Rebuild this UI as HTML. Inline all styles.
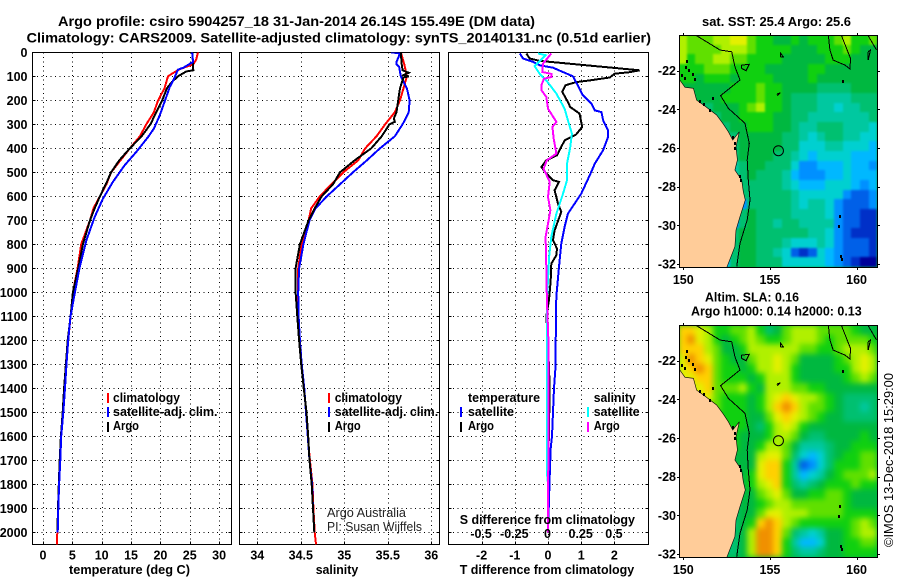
<!DOCTYPE html>
<html>
<head>
<meta charset="utf-8">
<title>Argo profile</title>
<style>
html,body{margin:0;padding:0;background:#fff;width:900px;height:580px;overflow:hidden}
svg{display:block}
text{font-family:"Liberation Sans",sans-serif;font-weight:bold;font-size:12.5px;fill:#000}
.t{font-size:14px}
.thin{font-weight:normal;font-size:12.5px;fill:#222}
.crisp{shape-rendering:crispEdges}
</style>
</head>
<body>
<svg id="root" width="900" height="580" viewBox="0 0 900 580" xmlns="http://www.w3.org/2000/svg">
<defs>
<clipPath id="clip-temp"><rect x="32.5" y="52.5" width="199" height="492"/></clipPath>
<clipPath id="clip-sal"><rect x="239.5" y="52.5" width="200" height="492"/></clipPath>
<clipPath id="clip-diff"><rect x="448.5" y="52.5" width="200" height="492"/></clipPath>
<clipPath id="clip-map1"><rect x="680" y="36" width="197" height="231"/></clipPath>
<clipPath id="clip-map2"><rect x="680" y="326" width="197" height="231"/></clipPath>
<filter id="soft-sst" x="-5%" y="-5%" width="110%" height="110%" color-interpolation-filters="sRGB"><feGaussianBlur stdDeviation="1.1" edgeMode="duplicate"/></filter>
<filter id="soft-sla" x="-5%" y="-5%" width="110%" height="110%" color-interpolation-filters="sRGB"><feGaussianBlur stdDeviation="3" edgeMode="duplicate"/></filter>
</defs>

<text class="t" x="58" y="26" textLength="477" lengthAdjust="spacingAndGlyphs">Argo profile: csiro 5904257_18 31-Jan-2014 26.14S 155.49E (DM data)</text>
<text class="t" x="26.5" y="42.5" textLength="624.5" lengthAdjust="spacingAndGlyphs">Climatology: CARS2009. Satellite-adjusted climatology: synTS_20140131.nc (0.51d earlier)</text>

<g id="panel-temp"></g>
<g id="panel-sal"></g>
<g id="panel-diff"></g>
<g id="map1"></g>
<g id="map2"></g>

<text x="69" y="574" textLength="121" lengthAdjust="spacingAndGlyphs">temperature (deg C)</text>
<text x="315.7" y="574" textLength="42.5" lengthAdjust="spacingAndGlyphs">salinity</text>
<text x="459.7" y="574" textLength="174.5" lengthAdjust="spacingAndGlyphs">T difference from climatology</text>
<text x="459.7" y="524" textLength="175.3" lengthAdjust="spacingAndGlyphs">S difference from climatology</text>

<g>
<rect class="crisp" x="107" y="393" width="2" height="10" fill="#ff0000"/>
<text x="113" y="402" textLength="67" lengthAdjust="spacingAndGlyphs">climatology</text>
<rect class="crisp" x="107" y="407" width="2" height="10" fill="#0000ff"/>
<text x="113" y="416" textLength="104.5" lengthAdjust="spacingAndGlyphs">satellite-adj. clim.</text>
<rect class="crisp" x="107" y="422" width="2" height="10" fill="#000"/>
<text x="113" y="430" textLength="26" lengthAdjust="spacingAndGlyphs">Argo</text>
</g>
<g>
<rect class="crisp" x="328" y="393" width="2" height="10" fill="#ff0000"/>
<text x="334.7" y="402" textLength="67.3" lengthAdjust="spacingAndGlyphs">climatology</text>
<rect class="crisp" x="328" y="407" width="2" height="10" fill="#0000ff"/>
<text x="334.7" y="416" textLength="103.5" lengthAdjust="spacingAndGlyphs">satellite-adj. clim.</text>
<rect class="crisp" x="328" y="422" width="2" height="10" fill="#000"/>
<text x="334.7" y="430" textLength="26" lengthAdjust="spacingAndGlyphs">Argo</text>
</g>
<text class="thin" x="327" y="517" textLength="79" lengthAdjust="spacingAndGlyphs">Argo Australia</text>
<text class="thin" x="327" y="531" textLength="95" lengthAdjust="spacingAndGlyphs">PI: Susan Wijffels</text>

<g>
<text x="468" y="402" textLength="72" lengthAdjust="spacingAndGlyphs">temperature</text>
<rect class="crisp" x="460" y="407" width="2" height="10" fill="#0000ff"/>
<text x="468" y="416" textLength="46" lengthAdjust="spacingAndGlyphs">satellite</text>
<rect class="crisp" x="460" y="422" width="2" height="10" fill="#000"/>
<text x="468" y="430" textLength="26" lengthAdjust="spacingAndGlyphs">Argo</text>
<text x="593.7" y="402" textLength="42" lengthAdjust="spacingAndGlyphs">salinity</text>
<rect class="crisp" x="587" y="407" width="2" height="10" fill="#00ffff"/>
<text x="593.7" y="416" textLength="46" lengthAdjust="spacingAndGlyphs">satellite</text>
<rect class="crisp" x="587" y="422" width="2" height="10" fill="#ff00ff"/>
<text x="593.7" y="430" textLength="26" lengthAdjust="spacingAndGlyphs">Argo</text>
</g>

<text x="702" y="26" textLength="149" lengthAdjust="spacingAndGlyphs">sat. SST: 25.4 Argo: 25.6</text>
<text x="705" y="301.5" textLength="94" lengthAdjust="spacingAndGlyphs">Altim. SLA: 0.16</text>
<text x="691" y="315.7" textLength="170.7" lengthAdjust="spacingAndGlyphs">Argo h1000: 0.14 h2000: 0.13</text>
<text class="thin" x="893" y="547" transform="rotate(-90 893 547)" textLength="174" lengthAdjust="spacingAndGlyphs" style="fill:#000;font-size:13px">©IMOS 13-Dec-2018 15:29:00</text>
</svg>

<script>
// ---------- profile data ----------
const depthTicks = [0,100,200,300,400,500,600,700,800,900,1000,1100,1200,1300,1400,1500,1600,1700,1800,1900,2000];
const tempTicks = [0,5,10,15,20,25,30];
const salTicks = [34,34.5,35,35.5,36];
const salTickLabels = ['34','34.5','35','35.5','36'];
const diffTicks = [-2,-1,0,1,2];
const sDiffTickLabels = ['-0.5','-0.25','0','0.25','0.5'];

const climTempDepth = [0,30,50,70,90,100,150,200,250,300,350,400,450,500,550,600,650,700,800,900,1000,1100,1200,1300,1400,1500,1600,1700,1800,1900,2000,2010,2050];
const climTemp = [26.4,26.1,25.6,23.3,21.9,21.3,20.7,19.6,18.9,17.6,16.5,14.8,13.2,11.6,10.8,9.7,8.6,8,6.5,5.9,5.1,4.7,4.3,4,3.7,3.4,3.05,2.9,2.7,2.6,2.5,2.4,2.35];
const sateTempDepth = [0,40,64,72,117,144,207,262,318,353,415,471,540,610,686,783,894,1005,1103,1200,1300,1400,1500,1600,1700,1800,1900,2000];
const sateTemp = [25.4,25.57,23.9,23,22.2,21.6,20.7,19.9,18.9,17.9,15.9,13.9,11.9,10.2,8.8,7.4,6.25,5.4,4.66,4.3,4,3.75,3.45,3.1,2.95,2.75,2.6,2.5];
const argoTempDepth = [0,75,80,100,125,150,200,250,300,350,400,450,500,550,600,650,700,800,900,1000,1100,1200,1300,1400,1500,1600,1700,1800,1900,2000];
const argoTemp = [25.45,25.6,24.4,23,21.9,21.1,20.3,19.3,18.3,16.8,14.8,13,11.6,10.7,9.7,8.8,8,6.8,6,5.1,4.7,4.2,3.9,3.6,3.35,3.05,2.85,2.7,2.55,2.45];

const climSalDepth = [0,50,100,150,200,250,300,350,400,450,500,550,600,650,700,800,900,1000,1100,1200,1300,1400,1500,1600,1700,1800,1900,2000,2050];
const climSal = [35.65,35.69,35.72,35.68,35.64,35.58,35.47,35.37,35.24,35.16,34.99,34.85,34.72,34.62,34.59,34.51,34.47,34.465,34.475,34.49,34.51,34.54,34.56,34.58,34.605,34.635,34.645,34.66,34.675];
const sateSalDepth = [0,5,40,50,60,100,150,200,250,300,350,400,450,500,550,600,650,700,800,900,1000,1100,1200,1300,1400,1500,1600,1700,1800,1900,2000];
const sateSal = [35.54,35.64,35.6,35.6,35.63,35.65,35.72,35.75,35.74,35.67,35.58,35.41,35.26,35.1,34.95,34.8,34.67,34.6,34.53,34.48,34.47,34.475,34.49,34.51,34.54,34.56,34.58,34.6,34.63,34.64,34.655];
const argoSalDepth = [0,50,75,85,95,100,105,150,200,250,275,290,300,350,400,450,500,550,600,650,700,800,900,1000,1100,1200,1300,1400,1500,1600,1700,1800,1900,2000];
const argoSal = [35.65,35.66,35.67,35.74,35.68,35.74,35.68,35.64,35.62,35.6,35.57,35.58,35.52,35.43,35.31,35.12,34.95,34.87,34.74,34.66,34.59,34.49,34.44,34.44,34.46,34.48,34.505,34.535,34.565,34.585,34.6,34.625,34.64,34.655];

const argoDiffDepth = [5,26,36,75,83,89,105,117,124,137,165,207,228,255,311,342,367,408,429,450,478,506,533,540,575,631,665,742,783,818,846,881,950,1033,1100,1200,1400,1800,2000];
const argoDiff = [-0.65,-0.55,-0.25,2.76,2.46,2.01,1.86,1.26,0.85,0.53,0.43,0.6,0.67,0.95,1.03,0.85,0.5,0.35,0.27,-0.05,-0.2,-0.05,0.15,0.33,0.2,0.3,0.4,0.2,0.15,0.27,0.25,0.1,0.08,0.03,-0.05,0,0.05,0,0];
const sateDiffDepth = [5,26,40,54,64,82,100,131,179,214,242,249,283,325,353,408,464,512,589,631,672,728,797,894,1019,1324,1400,1500,1600,1650,1768,2000];
const sateDiff = [-0.85,-0.75,-0.45,-0.25,0.15,0.45,0.75,0.87,1.05,1.31,1.41,1.61,1.66,1.81,1.81,1.66,1.41,1.26,1,0.8,0.6,0.5,0.4,0.33,0.25,0.22,0.18,0.15,0.12,0.08,0.05,0];
const sateSalDiffDepth = [5,12,58,89,117,172,235,283,339,394,464,533,589,672,769,853,950,1033,1300,1750,1800,2000];
const sateSalDiff = [-0.075,-0.018,-0.1,-0.063,-0.013,0.063,0.125,0.15,0.18,0.168,0.143,0.143,0.113,0.063,0.025,0.008,0,-0.008,-0.008,-0.008,0,0];
const argoSalDiffDepth = [5,47,82,90,103,110,137,158,186,235,290,311,360,422,450,485,540,603,658,714,769,894,1033,1200,1600,2000];
const argoSalDiff = [0.025,-0.038,-0.043,0.025,0.025,-0.03,-0.05,-0.05,-0.013,0,0.063,0.033,0.043,0.063,-0.008,-0.033,0.013,0,0.018,0,-0.018,-0.013,-0.008,0.003,0.003,0];

// ---------- map data (colour level per 0.5 degree cell, north to south, west to east) ----------
const sstGrid = [
[11,10,10,10,11,11,12,12,10,9,9,8,8,9,8,9,9,9,10,11,9,9,10],
[11,10,10,10,10,11,11,11,10,9,9,9,9,8,8,8,9,9,9,10,9,8,8],
[11,9,10,10,11,11,10,10,9,9,9,9,8,8,8,8,8,9,9,9,8,8,8],
[9,9,9,10,10,10,9,9,9,9,8,8,8,8,8,9,9,8,8,8,8,8,8],
[9,9,8,9,9,9,8,9,9,9,9,8,8,8,8,9,8,8,8,8,8,8,8],
[8,8,8,8,8,8,9,9,9,10,9,9,8,8,8,8,7,7,7,7,8,8,8],
[8,7,8,8,8,9,9,9,9,10,9,9,8,7,7,7,6,6,6,6,7,7,7],
[8,8,7,7,8,8,8,9,10,11,9,9,8,7,7,7,6,6,5,6,6,7,7],
[8,8,7,7,7,8,8,9,9,9,9,8,8,7,7,6,6,6,6,6,6,6,7],
[8,8,7,7,7,7,8,8,9,9,9,8,8,7,6,6,7,7,7,6,6,6,5],
[7,7,7,7,7,7,7,8,8,8,8,8,7,7,6,5,6,7,7,6,6,5,5],
[7,7,7,7,7,7,7,8,8,8,8,8,7,7,5,5,5,6,6,5,5,5,4],
[7,7,7,7,7,6,7,8,8,8,8,7,7,6,5,4,5,5,5,5,4,4,4],
[7,7,7,7,7,6,6,7,8,8,7,7,7,5,3,3,4,4,4,5,4,4,3],
[7,7,7,7,6,6,6,7,8,7,7,7,6,4,3,3,3,4,4,5,4,4,4],
[7,7,7,7,6,6,5,7,7,7,7,7,6,5,4,4,4,5,5,5,4,3,4],
[6,6,6,6,6,6,4,7,7,7,7,7,7,6,5,5,5,5,5,3,2,2,3],
[6,6,6,6,6,6,6,3,7,7,7,7,7,6,5,6,6,5,3,2,2,2,3],
[6,6,6,6,6,6,4,7,8,7,7,7,7,6,6,6,6,5,3,2,2,1,1],
[6,6,6,6,6,6,3,7,8,7,7,6,7,7,6,6,6,6,3,2,2,1,1],
[6,6,6,6,6,3,7,8,8,7,7,7,7,7,7,6,6,5,3,2,1,1,1],
[6,6,6,6,6,2,7,8,8,7,7,7,6,5,5,5,6,5,3,2,2,2,1],
[6,6,6,6,1,3,7,8,8,7,7,6,5,2,1,2,5,4,3,2,2,2,1],
[6,6,6,6,1,4,7,8,8,7,7,7,5,5,5,5,5,4,3,2,1,0,0]
];
const slaGrid = [
[13,13,12,11,9,9,10,10,11,9,7,8,10,11,11,11,10,10,10,10,9,8,8],
[13,14,12,11,9,8,9,10,11,10,9,9,10,11,11,11,10,9,10,10,10,10,9],
[13,13,13,11,10,8,8,9,11,11,11,11,11,11,10,10,9,9,10,11,11,11,10],
[12,14,13,12,10,9,8,8,10,11,11,12,11,10,8,8,8,8,9,10,11,12,11],
[12,13,14,13,10,9,9,8,9,11,11,12,11,9,8,8,8,8,9,9,11,12,11],
[12,12,13,13,10,9,9,9,8,9,11,11,11,9,8,8,8,8,8,9,10,11,10],
[11,11,12,13,10,10,10,11,9,8,11,11,11,10,10,9,9,8,8,8,8,8,8],
[11,11,12,12,10,9,9,9,8,9,11,12,13,12,11,11,10,9,8,7,7,7,7],
[10,10,10,10,10,9,9,9,8,9,11,13,14,13,11,10,10,9,8,7,7,6,7],
[9,9,9,9,9,9,9,9,8,8,10,12,13,12,11,10,9,8,8,7,7,7,7],
[9,9,9,9,9,9,9,9,8,7,9,11,12,11,9,8,8,8,8,8,8,8,8],
[9,9,9,9,9,9,9,8,8,8,9,11,11,10,8,7,7,8,8,8,8,9,8],
[9,9,9,9,9,9,9,8,8,9,11,11,10,8,6,6,6,7,8,8,9,9,9],
[9,9,9,9,9,9,8,8,8,11,12,12,10,7,5,4,5,7,8,9,9,10,10],
[9,9,9,9,9,9,8,8,8,12,13,13,9,6,2,3,5,7,9,9,9,10,10],
[9,9,9,9,9,9,8,8,9,12,13,13,9,6,4,5,6,8,9,10,10,10,11],
[9,9,9,9,9,9,8,8,9,11,12,13,9,7,6,7,8,9,9,9,10,9,9],
[9,9,9,9,9,9,7,8,8,10,11,12,10,8,8,9,9,10,10,9,8,8,8],
[9,9,9,9,9,9,7,8,8,9,10,11,11,10,10,10,10,10,10,9,8,8,8],
[9,9,9,9,9,7,7,8,8,10,12,12,11,11,11,10,10,10,10,9,9,9,9],
[9,9,9,9,9,7,7,8,9,13,14,13,11,10,9,9,9,9,9,9,10,11,10],
[9,9,9,9,9,7,7,8,11,14,14,13,10,7,6,5,6,8,8,9,10,11,11],
[9,9,9,9,7,7,7,8,11,14,14,13,9,6,4,4,5,8,8,9,9,10,10],
[9,9,9,9,7,7,7,8,11,14,14,13,9,7,6,6,7,8,8,9,9,9,9]
];
const levelColors = ['#00009a','#0030c8','#0060e8','#0090ff','#00b8ff','#00d0d0','#00c8a0','#00c070','#00b840','#10d010','#60e000','#b0f000','#e4f000','#ffd000','#f09000'];

const lonTicks = [150,155,160];
const latTicks = [-22,-24,-26,-28,-30,-32];
const coastLon = [149.8,150.1,150.58,150.77,151.25,151.92,152.31,152.6,152.85,153.23,153.04,153.12,152.98,153.37,153.46,153.58,153.27,153.04,152.98,152.5,149.6];
const coastLat = [-22.48,-22.86,-22.91,-23.52,-23.83,-24.29,-24.76,-25.16,-25.59,-25.16,-25.93,-26.62,-27.14,-27.66,-28.26,-28.69,-29.55,-30.24,-31.1,-32.2,-32.2];
const isobathA = {lon:[150.77,152.12,152.79,152.98,153.27,152.15,152.6,153.56,153.81,153.69,153.75,153.85,153.69,153.27,153.08], lat:[-20.19,-20.93,-21.02,-21.79,-22.48,-23.29,-23.95,-24.72,-25.76,-26.62,-27.66,-28.69,-29.72,-30.93,-32.14]};
const isobathB = {lon:[158.37,158.46,158.65,159.33,159.62,159.65,159.13], lat:[-20.19,-20.93,-21.45,-21.71,-21.91,-21.36,-20.19]};
const isobathC = {lon:[160.67,161.15], lat:[-20.19,-20.93]};
const isobathD = {lon:[160.67,160.8,160.67,160.67], lat:[-21.02,-20.93,-21.45,-21.02]};
const isobathE = {lon:[153.37,153.81,153.62,153.37,153.37], lat:[-21.71,-21.67,-22,-21.88,-21.71]};
const isobathF = {lon:[155.62,155.78,155.62,155.62], lat:[-21.3,-21.3,-21.1,-21.3]};
const isobathG = {lon:[155.4,155.6,155.45,155.4], lat:[-23.2,-23.15,-23.28,-23.2]};
const reefLon = [150.2,150.15,150.35,150.55,150.7,149.9,150.95,151.2,151.55,151.73,152.98,153.0,153.35,153.28,159.23,159.04,159,159.1,159.15,152.85,150.1];
const reefLat = [-21.5,-21.8,-21.95,-22.15,-22.45,-22.2,-23.55,-23.72,-24.05,-23.43,-25.75,-26,-27.65,-27.45,-22.53,-29.5,-30.02,-31.57,-31.75,-25.45,-22.4];
const profileLon = [155.49];
const profileLat = [-26.14];

// ---------- axis functions ----------
const SVGNS = 'http://www.w3.org/2000/svg';
const yDepth = d => 52.3 + 0.24 * d;
const xTemp = v => 43 + 5.87 * v;
const xSal = v => 257.3 + 87 * (v - 34);
const xDiff = v => 548 + 33.2 * v;
const xSalDiff = v => 548 + 33.2 * 4 * v;
const xLon = v => 683.3 + 17.33 * (v - 150);
const yLat = (v, off) => 70.7 + off + 19.33 * (-22 - v);

function make(tag, parent) {
  const el = document.createElementNS(SVGNS, tag);
  parent.appendChild(el);
  return el;
}
function line(parent, x1, y1, x2, y2, name, dashed) {
  const el = make('line', parent);
  
  
  el.setAttribute('x1', x1);
  el.setAttribute('y1', y1);
  el.setAttribute('x2', x2);
  el.setAttribute('y2', y2);
  el.setAttribute('stroke', '#000');
  el.setAttribute('class', 'crisp');
  if (dashed) el.setAttribute('stroke-dasharray', '1 3.5');
  return el;
}
function label(parent, x, y, str, anchor, name) {
  const el = make('text', parent);
  
  
  el.setAttribute('x', x);
  el.setAttribute('y', y);
  el.setAttribute('text-anchor', anchor);
  el.textContent = str;
  return el;
}
function series(parent, xs, ds, xf, color, clip, name) {
  const el = make('polyline', parent);
  
  
  el.setAttribute('points', xs.map((v, i) => xf(v).toFixed(1) + ',' + yDepth(ds[i]).toFixed(1)).join(' '));
  el.setAttribute('fill', 'none');
  el.setAttribute('stroke', color);
  el.setAttribute('stroke-width', '2');
  el.setAttribute('class', 'crisp');
  el.setAttribute('clip-path', 'url(#' + clip + ')');
  return el;
}
function profileFrame(parent, left, right, ticks, xf, depthLabels) {
  const top = 52.5, bottom = 544.5;
  depthTicks.forEach(d => {
    const y = Math.round(yDepth(d)) + 0.5;
    if (d > 0) line(parent, left, y, right, y, 'depth-gridline', true);
    line(parent, left, y, left + 3, y, 'depth-tick', false);
    line(parent, right - 3, y, right, y, 'depth-tick', false);
    if (depthLabels) label(parent, 27.5, yDepth(d) + 4.5, String(d), 'end', 'depth-tick-label');
  });
  ticks.forEach(v => {
    const x = Math.round(xf(v)) + 0.5;
    line(parent, x, top, x, bottom, 'x-gridline', true);
    line(parent, x, bottom - 3, x, bottom, 'x-tick', false);
  });
  const box = make('rect', parent);
  
  
  box.setAttribute('x', left);
  box.setAttribute('y', top);
  box.setAttribute('width', right - left);
  box.setAttribute('height', bottom - top);
  box.setAttribute('fill', 'none');
  box.setAttribute('stroke', '#000');
  box.setAttribute('class', 'crisp');
}

// ---------- temperature panel ----------
const pTemp = document.getElementById('panel-temp');
profileFrame(pTemp, 32.5, 231.5, tempTicks, xTemp, true);
series(pTemp, climTemp, climTempDepth, xTemp, '#ff0000', 'clip-temp', 'climatology-temperature-line');
series(pTemp, argoTemp, argoTempDepth, xTemp, '#000000', 'clip-temp', 'argo-temperature-line');
series(pTemp, sateTemp, sateTempDepth, xTemp, '#0000ff', 'clip-temp', 'satellite-temperature-line');
tempTicks.forEach(v => label(pTemp, xTemp(v), 559.3, String(v), 'middle', 'temperature-tick-label'));

// ---------- salinity panel ----------
const pSal = document.getElementById('panel-sal');
profileFrame(pSal, 239.5, 439.5, salTicks, xSal, false);
series(pSal, climSal, climSalDepth, xSal, '#ff0000', 'clip-sal', 'climatology-salinity-line');
series(pSal, sateSal, sateSalDepth, xSal, '#0000ff', 'clip-sal', 'satellite-salinity-line');
series(pSal, argoSal, argoSalDepth, xSal, '#000000', 'clip-sal', 'argo-salinity-line');
salTicks.forEach((v, i) => label(pSal, xSal(v), 559.3, salTickLabels[i], 'middle', 'salinity-tick-label'));

// ---------- difference panel ----------
const pDiff = document.getElementById('panel-diff');
profileFrame(pDiff, 448.5, 648.5, diffTicks, xDiff, false);
series(pDiff, argoDiff, argoDiffDepth, xDiff, '#000000', 'clip-diff', 'argo-temperature-difference-line');
series(pDiff, sateDiff, sateDiffDepth, xDiff, '#0000ff', 'clip-diff', 'satellite-temperature-difference-line');
series(pDiff, sateSalDiff, sateSalDiffDepth, xSalDiff, '#00ffff', 'clip-diff', 'satellite-salinity-difference-line');
series(pDiff, argoSalDiff, argoSalDiffDepth, xSalDiff, '#ff00ff', 'clip-diff', 'argo-salinity-difference-line');
diffTicks.forEach(v => label(pDiff, xDiff(v), 559.3, String(v), 'middle', 't-difference-tick-label'));
diffTicks.forEach((v, i) => label(pDiff, xDiff(v) - 0.5, 538, sDiffTickLabels[i], 'middle', 's-difference-tick-label'));

// ---------- maps ----------
function track(parent, path, off, clip, name) {
  const el = make('polyline', parent);
  
  
  el.setAttribute('points', path.lon.map((v, i) => xLon(v).toFixed(1) + ',' + yLat(path.lat[i], off).toFixed(1)).join(' '));
  el.setAttribute('fill', 'none');
  el.setAttribute('stroke', '#000');
  el.setAttribute('class', 'crisp');
  el.setAttribute('clip-path', 'url(#' + clip + ')');
}
function drawMap(id, grid, off, clip, cellName, softFilter) {
  const g = document.getElementById(id);
  const top = 36 + off, bottom = 267 + off, left = 680, right = 877;
  const bg = make('rect', g);
  
  
  bg.setAttribute('x', left);
  bg.setAttribute('y', top);
  bg.setAttribute('width', right - left);
  bg.setAttribute('height', bottom - top);
  bg.setAttribute('fill', levelColors[8]);
  const clipLayer = make('g', g);
  
  
  clipLayer.setAttribute('clip-path', 'url(#' + clip + ')');
  const cells = make('g', clipLayer);
  
  
  cells.setAttribute('filter', 'url(#' + softFilter + ')');
  grid.forEach((row, r) => {
    const lat = -20.4 - 0.5 * r;
    row.forEach((v, c) => {
      const lon = 149.95 + 0.5 * c;
      const x0 = Math.round(xLon(lon - 0.25)), x1 = Math.round(xLon(lon + 0.25));
      const y0 = Math.round(yLat(lat + 0.25, off)), y1 = Math.round(yLat(lat - 0.25, off));
      const cell = make('rect', cells);
      
      
      cell.setAttribute('x', x0);
      cell.setAttribute('y', y0);
      cell.setAttribute('width', x1 - x0);
      cell.setAttribute('height', y1 - y0);
      cell.setAttribute('fill', levelColors[v]);
    });
  });
  const land = make('polygon', g);
  
  
  land.setAttribute('points', coastLon.map((v, i) => xLon(v).toFixed(1) + ',' + yLat(coastLat[i], off).toFixed(1)).join(' '));
  land.setAttribute('fill', '#ffcc99');
  land.setAttribute('stroke', '#000');
  land.setAttribute('stroke-width', '0.6');
  land.setAttribute('clip-path', 'url(#' + clip + ')');
  [isobathA, isobathB, isobathC, isobathD, isobathE, isobathF, isobathG].forEach(p => track(g, p, off, clip, 'bathymetry-contour'));
  reefLon.forEach((v, i) => {
    const reef = make('rect', g);
    
    
    reef.setAttribute('x', Math.round(xLon(v)) - 1);
    reef.setAttribute('y', Math.round(yLat(reefLat[i], off)) - 1);
    reef.setAttribute('width', 2);
    reef.setAttribute('height', 3);
    reef.setAttribute('fill', '#000');
    reef.setAttribute('class', 'crisp');
    reef.setAttribute('clip-path', 'url(#' + clip + ')');
  });
  profileLon.forEach((v, i) => {
    const mark = make('circle', g);
    
    
    mark.setAttribute('cx', xLon(v));
    mark.setAttribute('cy', yLat(profileLat[i], off));
    mark.setAttribute('r', 5);
    mark.setAttribute('fill', 'none');
    mark.setAttribute('stroke', '#000');
  });
  const frame = make('rect', g);
  
  
  frame.setAttribute('x', left - 0.5);
  frame.setAttribute('y', top - 0.5);
  frame.setAttribute('width', right - left + 1);
  frame.setAttribute('height', bottom - top + 1);
  frame.setAttribute('fill', 'none');
  frame.setAttribute('stroke', '#000');
  frame.setAttribute('class', 'crisp');
  lonTicks.forEach(v => {
    const x = Math.round(xLon(v)) + 0.5;
    line(g, x, top - 3, x, top, 'longitude-tick', false);
    line(g, x, bottom, x, bottom + 3, 'longitude-tick', false);
    label(g, xLon(v), bottom + 17, String(v), 'middle', 'longitude-tick-label');
  });
  latTicks.forEach(v => {
    const y = Math.round(yLat(v, off)) + 0.5;
    line(g, left - 3, y, left, y, 'latitude-tick', false);
    line(g, right, y, right + 3, y, 'latitude-tick', false);
    label(g, 676, yLat(v, off) + 4.5, String(v), 'end', 'latitude-tick-label');
  });
}
drawMap('map1', sstGrid, 0, 'clip-map1', 'sst-cell', 'soft-sst');
drawMap('map2', slaGrid, 290, 'clip-map2', 'sla-cell', 'soft-sla');
</script>
</body>
</html>
